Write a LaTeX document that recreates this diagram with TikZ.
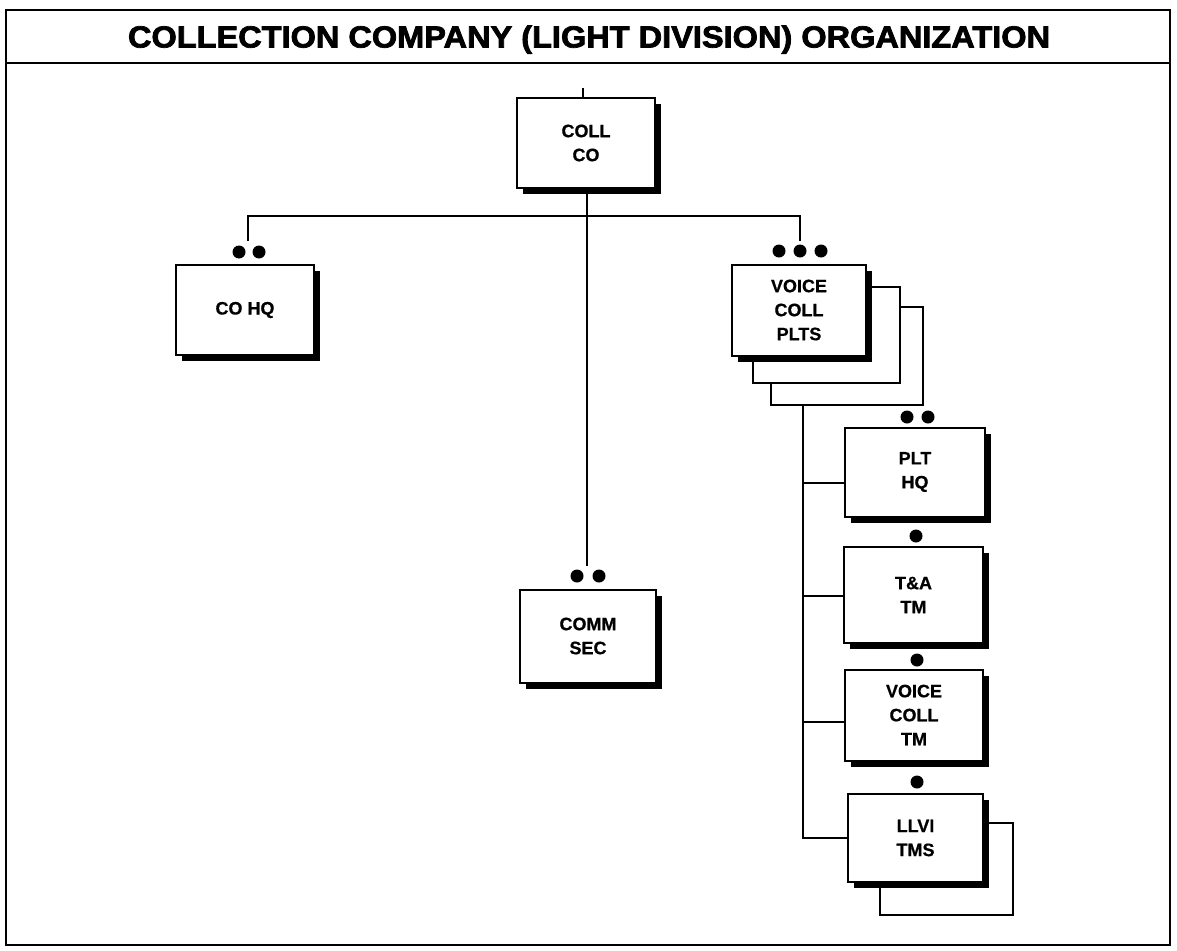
\documentclass[tikz,border=0pt]{standalone}
\usepackage{fontspec}
\setmainfont{Liberation Sans}[BoldFeatures={FakeBold=0.6}]
\newfontfamily\titlefont{Liberation Sans}[BoldFeatures={FakeBold=2.4}]
\usetikzlibrary{shadows}
\newlength\titlew
\newcommand\titletext{COLLECTION COMPANY (LIGHT DIVISION) ORGANIZATION}
\tikzset{
  unit/.style={draw, line width=2pt, fill=white, minimum width=138pt, minimum height=91pt,
    inner sep=0pt, align=center, font=\bfseries\fontsize{18}{24}\selectfont,
    drop shadow={shadow xshift=6pt, shadow yshift=-6pt, opacity=1, fill=black}},
  backunit/.style={draw, line width=2pt, fill=white, inner sep=0pt},
  dot/.style={circle, fill=black, inner sep=0pt, minimum size=13pt},
  link/.style={line width=2.3pt},
  frame/.style={line width=2.4pt},
}
\begin{document}
\settowidth\titlew{\titlefont\bfseries\fontsize{30.5}{31}\selectfont\titletext}%
\pgfmathsetmacro{\tscale}{922/\titlew}%
\begin{tikzpicture}[x=1pt, y=-1pt]
\useasboundingbox (0,0) rectangle (1177,950);
% frame and title band
\draw[frame] (6,10) rectangle (1170,945);
\draw[frame] (6,63) -- (1170,63);
\node[anchor=base, inner sep=0pt] (title) at (589,47.5)
  {\titlefont\bfseries\fontsize{30.5}{31}\selectfont\scalebox{\tscale}[1]{\titletext}};

% units
\node[unit, minimum width=138pt, minimum height=90pt] (collco) at (586,143) {COLL\\CO};
\node[unit, minimum height=90pt] (cohq) at (245,310) {CO HQ};
\node[backunit, minimum width=152pt, minimum height=98pt] (back3) at (847,356) {};
\node[backunit, minimum width=147pt, minimum height=96pt] (back2) at (826.5,335) {};
\node[unit, minimum width=134pt] (vcp) at (799,310) {VOICE\\COLL\\PLTS};
\node[unit, minimum width=136pt, minimum height=93pt] (commsec) at (588,636) {COMM\\SEC};
\node[unit, minimum width=140pt, minimum height=89pt] (plthq) at (915,472) {PLT\\HQ};
\node[unit, minimum width=139pt, minimum height=96pt] (tatm) at (913.5,595) {T\&A\\TM};
\node[unit, minimum height=91pt] (vctm) at (914,715) {VOICE\\COLL\\TM};
\node[backunit, minimum width=133pt, minimum height=92pt] (llviback) at (946.5,869) {};
\node[unit, minimum width=135pt, minimum height=88pt] (llvi) at (915.5,838) {LLVI\\TMS};

% dots
\node[dot] (d1) at (239,252) {};
\node[dot] (d2) at (259,252) {};
\node[dot] (d3) at (779,251) {};
\node[dot] (d4) at (800,251) {};
\node[dot] (d5) at (821,251) {};
\node[dot] (d6) at (577,576) {};
\node[dot] (d7) at (599,576) {};
\node[dot] (d8) at (907,417) {};
\node[dot] (d9) at (928,417) {};
\node[dot] (d10) at (916,536) {};
\node[dot] (d11) at (917,660) {};
\node[dot] (d12) at (917,782) {};

% connectors
\coordinate (tick) at (583,88);
\draw[link] (tick) -- (tick |- collco.north);
\coordinate (hl) at (248,216);
\coordinate (hr) at (800,216);
\coordinate (hldown) at (248,241);
\coordinate (hrdown) at (800,241);
\coordinate (vdown) at (587,566);
\draw[link] (hldown) -- (hl) -- (hr) -- (hrdown);
\draw[link] (collco.south -| vdown) -- (vdown);

\coordinate (trunktop) at (803,405);
\coordinate (b1) at (803,483);
\coordinate (b2) at (803,596);
\coordinate (b3) at (803,722);
\coordinate (b4) at (803,838);
\draw[link] (trunktop) -- (b4) -- (b4 -| llvi.west);
\draw[link] (b1) -- (b1 -| plthq.west);
\draw[link] (b2) -- (b2 -| tatm.west);
\draw[link] (b3) -- (b3 -| vctm.west);
\end{tikzpicture}
\end{document}
